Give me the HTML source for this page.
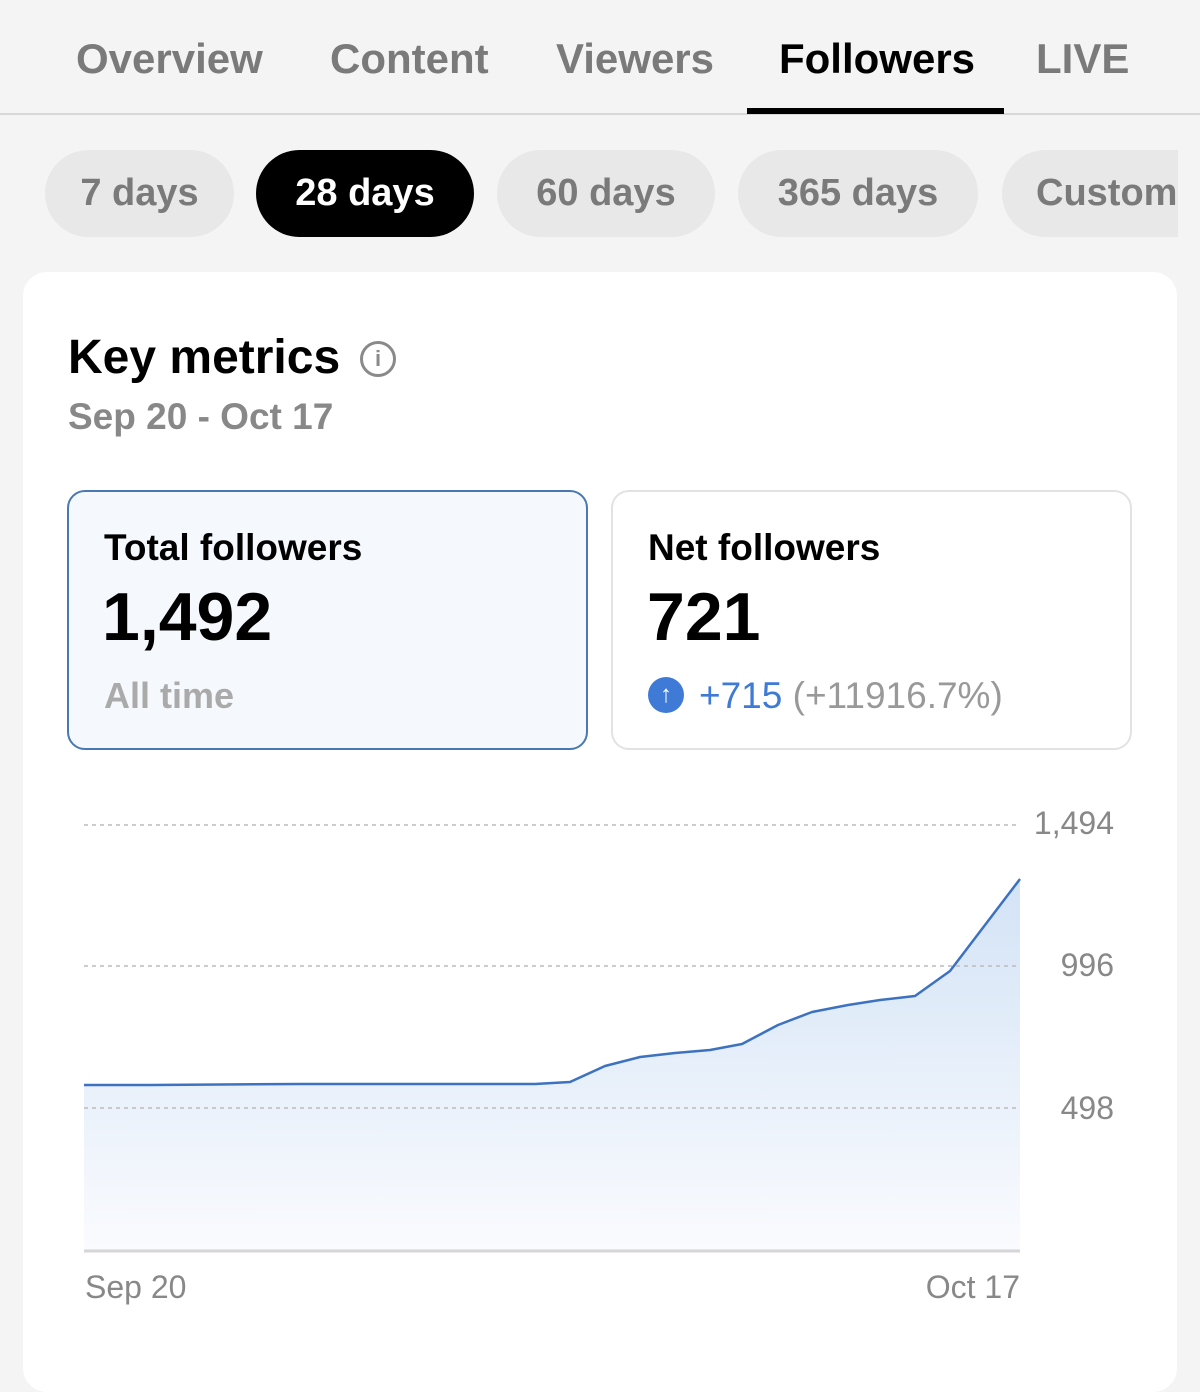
<!DOCTYPE html>
<html><head><meta charset="utf-8"><style>
*{margin:0;padding:0;box-sizing:border-box}
body{width:1200px;height:1359px;background:#f4f4f4;position:relative;overflow:hidden;font-family:"Liberation Sans",sans-serif}
.a{position:absolute;white-space:nowrap}
.tab{top:35px;font-size:42px;font-weight:bold;color:#7a7a7a;letter-spacing:0px}
.chip{position:absolute;top:150px;height:87px;border-radius:44px;background:#e8e8e8;color:#7a7a7a;font-size:38px;font-weight:bold;display:flex;align-items:center;justify-content:center}
</style></head><body>
<div class="a tab" style="left:76px">Overview</div>
<div class="a tab" style="left:330px">Content</div>
<div class="a tab" style="left:556px">Viewers</div>
<div class="a tab" style="left:779px;color:#000">Followers</div>
<div class="a tab" style="left:1036px">LIVE</div>
<div class="a" style="left:0;top:113px;width:1200px;height:2px;background:#d8d8d8"></div>
<div class="a" style="left:747px;top:108px;width:257px;height:6px;background:#000"></div>

<div class="chip" style="left:45px;width:189px">7 days</div>
<div class="chip" style="left:256px;width:218px;background:#000;color:#fff">28 days</div>
<div class="chip" style="left:497px;width:218px">60 days</div>
<div class="chip" style="left:738px;width:240px">365 days</div>
<div class="chip" style="left:1002px;width:176px;border-radius:44px 0 0 44px;justify-content:flex-start;padding-left:34px;overflow:hidden">Custom</div>

<div class="a" style="left:23px;top:272px;width:1154px;height:1120px;background:#fff;border-radius:24px"></div>

<div class="a" style="left:68px;top:330px;font-size:48px;font-weight:bold;color:#000">Key metrics</div>
<div class="a" style="left:360px;top:341px;width:36px;height:36px;border:3px solid #8a8a8a;border-radius:50%;color:#8a8a8a;font-size:22px;font-weight:bold;text-align:center;line-height:30px">i</div>
<div class="a" style="left:68px;top:396px;font-size:37px;font-weight:bold;color:#888">Sep 20 - Oct 17</div>

<div class="a" style="left:67px;top:490px;width:521px;height:260px;border:2px solid #4a78b0;border-radius:18px;background:#f5f8fc"></div>
<div class="a" style="left:104px;top:527px;font-size:37px;font-weight:bold;color:#000">Total followers</div>
<div class="a" style="left:102px;top:578px;font-size:68px;font-weight:bold;color:#000">1,492</div>
<div class="a" style="left:104px;top:675px;font-size:36px;font-weight:bold;color:#aaa">All time</div>

<div class="a" style="left:611px;top:490px;width:521px;height:260px;border:2px solid #e2e2e2;border-radius:18px;background:#fff"></div>
<div class="a" style="left:648px;top:527px;font-size:37px;font-weight:bold;color:#000">Net followers</div>
<div class="a" style="left:647px;top:578px;font-size:68px;font-weight:bold;color:#000">721</div>
<div class="a" style="left:648px;top:677px;width:36px;height:36px;border-radius:50%;background:#3f7ad6;color:#fff;font-size:24px;font-weight:bold;text-align:center;line-height:36px">↑</div>
<div class="a" style="left:699px;top:675px;font-size:37px;color:#3f7ad6">+715 <span style="color:#999">(+11916.7%)</span></div>

<svg class="a" style="left:0;top:0" width="1200" height="1359">
<defs><linearGradient id="g" x1="0" y1="0" x2="0" y2="1"><stop offset="0" stop-color="#d3e3f6"/><stop offset="1" stop-color="#fafbfe"/></linearGradient></defs>
<path d="M84,1085 L150,1085 300,1084 460,1084 535,1084 570,1082 605,1066 640,1057 675,1053 710,1050 742,1044 778,1025 812,1012 848,1005 880,1000 915,996 950,971 985,925 1020,879 L1020,1250 L84,1250 Z" fill="url(#g)"/>
<g stroke="#bbb" stroke-width="1.5" stroke-dasharray="4,4">
<line x1="84" y1="825" x2="1020" y2="825"/><line x1="84" y1="966" x2="1020" y2="966"/><line x1="84" y1="1108" x2="1020" y2="1108"/></g>
<polyline points="84,1085 150,1085 300,1084 460,1084 535,1084 570,1082 605,1066 640,1057 675,1053 710,1050 742,1044 778,1025 812,1012 848,1005 880,1000 915,996 950,971 985,925 1020,879" fill="none" stroke="#3d72c0" stroke-width="2.5" stroke-linejoin="round"/>
<line x1="84" y1="1251" x2="1020" y2="1251" stroke="#d6d6d6" stroke-width="3"/>
<g font-family="Liberation Sans,sans-serif" font-size="32" fill="#888" text-anchor="end">
<text x="1114" y="834">1,494</text><text x="1114" y="976">996</text><text x="1114" y="1119">498</text>
<text x="85" y="1298" text-anchor="start">Sep 20</text><text x="1020" y="1298">Oct 17</text></g>
</svg>
</body></html>
